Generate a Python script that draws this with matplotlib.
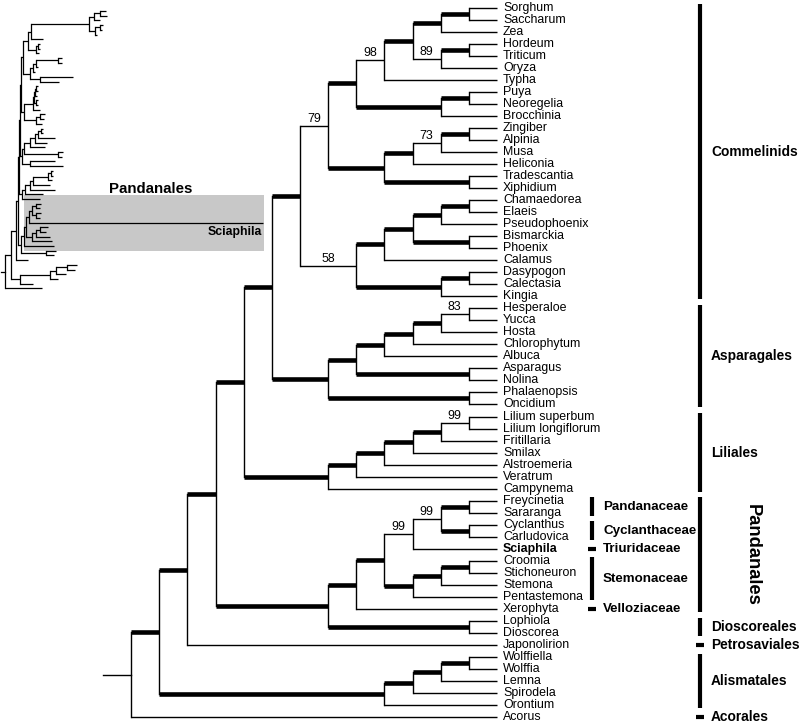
import matplotlib
matplotlib.use("Agg")
import matplotlib.pyplot as plt
from matplotlib.patches import Rectangle

plt.rcParams["font.family"] = ["Liberation Sans", "DejaVu Sans"]

# ── Data ──────────────────────────────────────────────
# main cladogram topology; internal labels are bootstrap values (<100 only)
grass = "(((Sorghum,Saccharum),Zea),((Hordeum,Triticum),Oryza)89)"
poales = "((" + grass + ",Typha)98,((Puya,Neoregelia),Brocchinia))"
zing_comm = "((((Zingiber,Alpinia),Musa)73,Heliconia),(Tradescantia,Xiphidium))"
palms = "((((Chamaedorea,Elaeis),Pseudophoenix),(Bismarckia,Phoenix)),Calamus)"
dasy = "((Dasypogon,Calectasia),Kingia)"
commelinids = "((" + poales + "," + zing_comm + ")79,(" + palms + "," + dasy + ")58)"
asparagales = "((((((Hesperaloe,Yucca)83,Hosta),Chlorophytum),Albuca),(Asparagus,Nolina)),(Phalaenopsis,Oncidium))"
liliales = "((((((Lilium superbum,Lilium longiflorum)99,Fritillaria),Smilax),Alstroemeria),Veratrum),Campynema)"
pandanales = ("(((((Freycinetia,Sararanga),(Cyclanthus,Carludovica))99,Sciaphila)99,"
              "(((Croomia,Stichoneuron),Stemona),Pentastemona)),Xerophyta)")
dioscoreales = "(Lophiola,Dioscorea)"
alismatales = "((((Wolffiella,Wolffia),Lemna),Spirodela),Orontium)"
main_tree = ("((((((" + commelinids + "," + asparagales + ")," + liliales + "),("
             + pandanales + "," + dioscoreales + ")),Japonolirion)," + alismatales + "),Acorus)")

# inset phylogram, same taxa and order, branch lengths estimated from the thumbnail
grass_i = "(((Sorghum:6,Saccharum:7):6,Zea:6):5,((Hordeum:3,Triticum:2):5,Oryza:2):6)"
poales_i = "((" + grass_i + ":58,Typha:12):3,((Puya:2,Neoregelia:2):2,Brocchinia:3):8)"
zing_comm_i = "((((Zingiber:4,Alpinia:4):22,Musa:2):3,Heliconia:2):3,(Tradescantia:33,Xiphidium:19):10)"
palms_i = "((((Chamaedorea:2,Elaeis:2):1,Pseudophoenix:2):1,(Bismarckia:2,Phoenix:2):2):1,Calamus:7)"
dasy_i = "((Dasypogon:5,Calectasia:4):4,Kingia:6)"
commelinids_i = "((" + poales_i + ":5," + zing_comm_i + ":7):2,(" + palms_i + ":9," + dasy_i + ":12):3)"
asparagales_i = ("((((((Hesperaloe:2,Yucca:2):3,Hosta:17):3,Chlorophytum:12):5,Albuca:15):6,"
                 "(Asparagus:5,Nolina:4):34):2,(Phalaenopsis:25,Oncidium:33):8)")
liliales_i = ("((((((Lilium superbum:2,Lilium longiflorum:2):3,Fritillaria:4):15,Smilax:17):3,"
              "Alstroemeria:25):5,Veratrum:18):3,Campynema:18)")
pandanales_i = ("(((((Freycinetia:5,Sararanga:4):4,(Cyclanthus:5,Carludovica:4):4):3,Sciaphila:234):3,"
                "(((Croomia:8,Stichoneuron:6):4,Stemona:14):4,Pentastemona:20):6):2,Xerophyta:30)")
pand_dios_i = "(" + pandanales_i + ":3,(Lophiola:10,Dioscorea:8):25)"
alismatales_i = "((((Wolffiella:10,Wolffia:8):11,Lemna:10):6,Spirodela:8):30,Orontium:13)"
inset_tree = ("((((((" + commelinids_i + ":1," + asparagales_i + ":2):1," + liliales_i + ":3):1,"
              + pand_dios_i + ":3):2,Japonolirion:12):5," + alismatales_i + ":9):6,Acorus:37)")

orders = [("Commelinids", 0, 24), ("Asparagales", 25, 33), ("Liliales", 34, 40),
          ("Dioscoreales", 51, 52), ("Petrosaviales", 53, 53),
          ("Alismatales", 54, 58), ("Acorales", 59, 59)]
pandanales_span = ("Pandanales", 41, 50)
families = [("Pandanaceae", 41, 42), ("Cyclanthaceae", 43, 44), ("Triuridaceae", 45, 45),
            ("Stemonaceae", 46, 49), ("Velloziaceae", 50, 50)]
bold_taxa = ["Sciaphila"]


def parse_newick(s):
    pos = 0

    def node():
        nonlocal pos
        children = []
        if s[pos] == "(":
            pos += 1
            children.append(node())
            while s[pos] == ",":
                pos += 1
                children.append(node())
            pos += 1
        start = pos
        while pos < len(s) and s[pos] not in ",():":
            pos += 1
        label = s[start:pos].strip()
        length = 0.0
        if pos < len(s) and s[pos] == ":":
            pos += 1
            start = pos
            while pos < len(s) and s[pos] not in ",()":
                pos += 1
            length = float(s[start:pos])
        return {"label": label, "children": children, "length": length}

    return node()


def leaves(n):
    if not n["children"]:
        return [n]
    return [l for c in n["children"] for l in leaves(c)]


def height(n):
    if not n["children"]:
        return 0
    return 1 + max(height(c) for c in n["children"])


def layout_clado(n, y0, dy, leaf_x, step, counter):
    for c in n["children"]:
        layout_clado(c, y0, dy, leaf_x, step, counter)
    if n["children"]:
        n["y"] = (n["children"][0]["y"] + n["children"][-1]["y"]) / 2
    else:
        n["y"] = y0 + dy * counter[0]
        counter[0] += 1
    n["x"] = leaf_x - height(n) * step


def layout_phylo(n, x, y0, dy, counter):
    n["x"] = x + n["length"]
    for c in n["children"]:
        layout_phylo(c, n["x"], y0, dy, counter)
    if n["children"]:
        n["y"] = (n["children"][0]["y"] + n["children"][-1]["y"]) / 2
    else:
        n["y"] = y0 + dy * counter[0]
        counter[0] += 1


LEAF_Y0, LEAF_DY = 7.5, 12.03
LEAF_X, STEP = 497, 28.15
THIN, THICK = 1.0, 3.3
FS_LEAF, FS_GROUP = 8.9, 9.9

fig = plt.figure(figsize=(8.0, 7.26), dpi=100)
ax = fig.add_axes([0, 0, 1, 1])
ax.set_xlim(0, 800)
ax.set_ylim(726, 0)
ax.axis("off")

# ── Main cladogram ────────────────────────────────────
root = parse_newick(main_tree)
layout_clado(root, LEAF_Y0, LEAF_DY, LEAF_X, STEP, [0])


def draw_clado(n):
    if not n["children"]:
        w = "bold" if n["label"] in bold_taxa else "normal"
        ax.text(n["x"] + 6, n["y"], n["label"], fontsize=FS_LEAF, va="center",
                ha="left", fontweight=w)
        return
    ys = [c["y"] for c in n["children"]]
    ax.plot([n["x"], n["x"]], [min(ys), max(ys)], color="black", lw=THIN,
            solid_capstyle="projecting")
    for c in n["children"]:
        internal = bool(c["children"])
        support = c["label"] if internal else ""
        lw = THICK if (internal and not support) else THIN
        ax.plot([n["x"], c["x"]], [c["y"], c["y"]], color="black", lw=lw,
                solid_capstyle="butt")
        if support:
            ax.text((n["x"] + c["x"]) / 2, c["y"] - 7, support, fontsize=FS_LEAF,
                    ha="center", va="center")
        draw_clado(c)


ax.plot([root["x"] - STEP, root["x"]], [root["y"], root["y"]], color="black", lw=THIN)
draw_clado(root)


def leaf_y(i):
    return LEAF_Y0 + LEAF_DY * i


BAR_X, FAM_X = 700, 592


def bracket(x, name, i0, i1, label=True, size=FS_GROUP):
    if i0 == i1:
        ax.plot([x - 4, x + 4], [leaf_y(i0), leaf_y(i0)], color="black", lw=3.0,
                solid_capstyle="butt")
    else:
        ax.plot([x, x], [leaf_y(i0) - 3.5, leaf_y(i1) + 3], color="black", lw=3.0,
                solid_capstyle="butt")
    if label:
        ax.text(x + 11, (leaf_y(i0) + leaf_y(i1)) / 2, name, fontsize=size,
                fontweight="bold", va="center", ha="left")


for name, i0, i1 in orders:
    bracket(BAR_X, name, i0, i1)
name, i0, i1 = pandanales_span
bracket(BAR_X, name, i0, i1, label=False)
ax.text(752, (leaf_y(i0) + leaf_y(i1)) / 2, name, fontsize=13.2, fontweight="bold",
        rotation=-90, va="center", ha="center")
for name, i0, i1 in families:
    bracket(FAM_X, name, i0, i1, size=9.6)

# ── Inset phylogram ───────────────────────────────────
INSET_Y0, INSET_DY = 11.0, 4.7
inset = parse_newick(inset_tree)
layout_phylo(inset, 5, INSET_Y0, INSET_DY, [0])
inset_leaves = leaves(inset)

box_top = inset_leaves[pandanales_span[1]]["y"] - 9
box_bot = inset_leaves[pandanales_span[2]]["y"] + 5
ax.add_patch(Rectangle((24, box_top), 240, box_bot - box_top, facecolor="#c8c8c8",
                       edgecolor="none", zorder=0))
ax.text(151, box_top - 6, "Pandanales", fontsize=10.8, fontweight="bold",
        ha="center", va="center")


def draw_phylo(n):
    if not n["children"]:
        if n["label"] in bold_taxa:
            ax.text(262, n["y"] + 9, n["label"], fontsize=8.8, fontweight="bold",
                    ha="right", va="center")
        return
    ys = [c["y"] for c in n["children"]]
    ax.plot([n["x"], n["x"]], [min(ys), max(ys)], color="black", lw=0.9)
    for c in n["children"]:
        ax.plot([n["x"], c["x"]], [c["y"], c["y"]], color="black", lw=0.9,
                solid_capstyle="butt")
        draw_phylo(c)


ax.plot([1, inset["x"]], [inset["y"], inset["y"]], color="black", lw=0.9)
draw_phylo(inset)

fig.savefig("out.png", dpi=100)
